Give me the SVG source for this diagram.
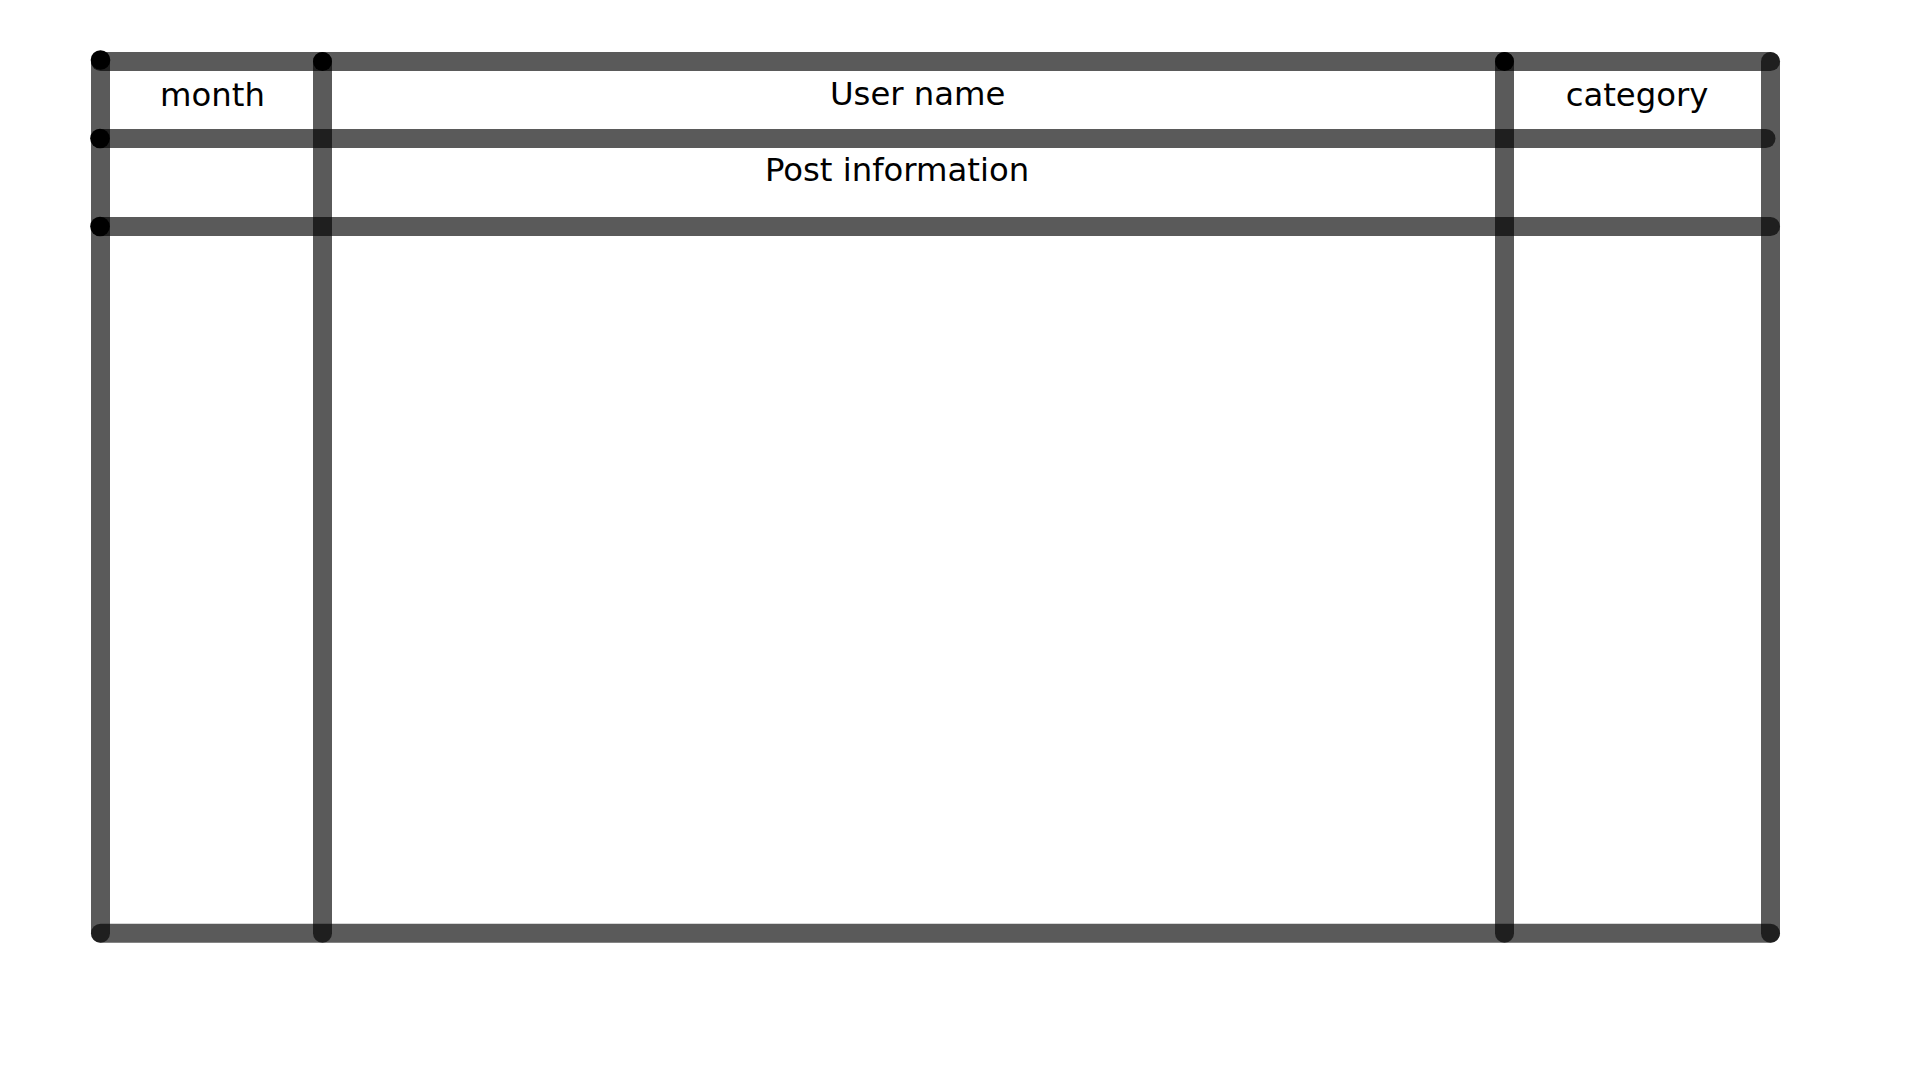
<svg xmlns="http://www.w3.org/2000/svg" width="1920" height="1080" viewBox="0 0 1920 1080">
<style>
.ln{stroke:#000;stroke-opacity:0.647;stroke-width:19;stroke-linecap:round;fill:none}
.dot{fill:#000}
.lbl{font-family:"DejaVu Sans","Liberation Sans",sans-serif;font-size:32.3px;fill:#000;text-anchor:middle}
</style>
<rect width="1920" height="1080" fill="#fff"/>
<g id="connectors">
<line class="ln" x1="100.5" y1="61.5" x2="1770.5" y2="61.5"/>
<line class="ln" x1="100.5" y1="138.5" x2="1766" y2="138.5"/>
<line class="ln" x1="100.5" y1="226.5" x2="1770.5" y2="226.5"/>
<line class="ln" x1="100.5" y1="933.3" x2="1770.5" y2="933.3"/>
<line class="ln" x1="100.5" y1="61.5" x2="100.5" y2="933.3"/>
<line class="ln" x1="322.5" y1="61.5" x2="322.5" y2="933.3"/>
<line class="ln" x1="1504.5" y1="61.5" x2="1504.5" y2="933.3"/>
<line class="ln" x1="1770.5" y1="61.5" x2="1770.5" y2="933.3"/>
<circle class="dot" cx="100.5" cy="60" r="9.8"/>
<circle class="dot" cx="100" cy="138.5" r="9.8"/>
<circle class="dot" cx="100" cy="226.5" r="9.8"/>
<circle class="dot" cx="322.5" cy="61.5" r="9.5"/>
<circle class="dot" cx="1504.5" cy="61.5" r="9.5"/>
</g>
<g id="month"><text class="lbl" x="212.5" y="105.7">month</text></g>
<g id="username"><text class="lbl" x="917.7" y="105.3">User name</text></g>
<g id="category"><text class="lbl" x="1637" y="105.5">category</text></g>
<g id="postinfo"><text class="lbl" x="897" y="181.2">Post information</text></g>
</svg>
